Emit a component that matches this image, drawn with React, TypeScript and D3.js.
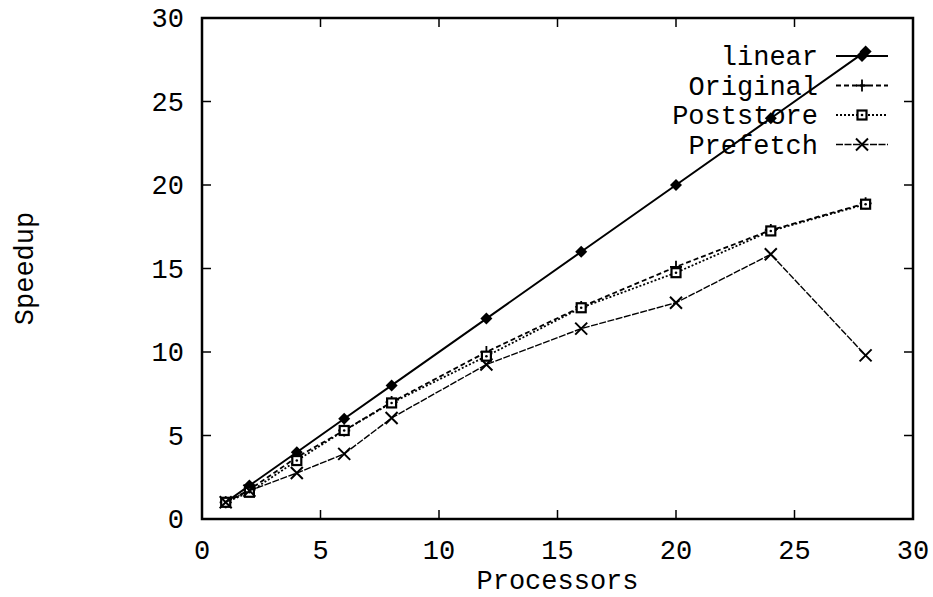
import * as d3 from "d3";

const processors = [1, 2, 4, 6, 8, 12, 16, 20, 24, 28];
const linearSpeedup = [1, 2, 4, 6, 8, 12, 16, 20, 24, 28];
const originalSpeedup = [1, 1.75, 3.7, 5.3, 7.0, 10.0, 12.7, 15.1, 17.3, 18.9];
const poststoreSpeedup = [1, 1.6, 3.5, 5.3, 6.95, 9.75, 12.65, 14.75, 17.25, 18.85];
const prefetchSpeedup = [1, 1.7, 2.75, 3.9, 6.05, 9.25, 11.4, 12.95, 15.85, 9.8];
const xTickValues = [0, 5, 10, 15, 20, 25, 30];
const yTickValues = [0, 5, 10, 15, 20, 25, 30];
const seriesNames = ["linear", "Original", "Poststore", "Prefetch"];

const FONT = "'Courier New', 'Liberation Mono', monospace";

type Pt = { x: number; y: number };

function Marker({ kind, x, y }: { kind: string; x: number; y: number }) {
	if (kind === "linear") {
		const r = 6;
		return (
			<path
				d={`M${x},${y - r}L${x + r},${y}L${x},${y + r}L${x - r},${y}Z`}
				fill="#000"
			/>
		);
	}
	if (kind === "Original") {
		const r = 6;
		return (
			<path
				d={`M${x - r},${y}H${x + r}M${x},${y - r}V${y + r}`}
				stroke="#000"
				strokeWidth={1.8}
			/>
		);
	}
	if (kind === "Poststore") {
		const r = 4.5;
		return (
			<g>
				<rect
					x={x - r}
					y={y - r}
					width={2 * r}
					height={2 * r}
					fill="#fff"
					stroke="#000"
					strokeWidth={2.2}
				/>
				<circle cx={x} cy={y} r={1.3} fill="#000" />
			</g>
		);
	}
	const r = 6;
	return (
		<path
			d={`M${x - r},${y - r}L${x + r},${y + r}M${x - r},${y + r}L${x + r},${y - r}`}
			stroke="#000"
			strokeWidth={2}
		/>
	);
}

export default function App() {
	const width = 933;
	const height = 597;
	const left = 202;
	const right = 913;
	const top = 18;
	const bottom = 519;

	const x = d3.scaleLinear().domain([0, 30]).range([left, right]);
	const y = d3.scaleLinear().domain([0, 30]).range([bottom, top]);

	const line = d3
		.line<Pt>()
		.x((d) => x(d.x))
		.y((d) => y(d.y));

	const series = [
		{ name: "linear", values: linearSpeedup, dash: "none", sw: 2 },
		{ name: "Original", values: originalSpeedup, dash: "5,3", sw: 1.8 },
		{ name: "Poststore", values: poststoreSpeedup, dash: "2,2", sw: 1.8 },
		{ name: "Prefetch", values: prefetchSpeedup, dash: "7,1.5", sw: 1.4 },
	];

	const legendY = [56, 85.5, 115, 144.5];
	const tickLen = 9;

	return (
		<svg
			width={width}
			height={height}
			style={{ position: "absolute", left: 0, top: 0, background: "#fff" }}
		>
			{/* ticks, mirrored on all four sides */}
			{xTickValues.map((t) => (
				<g key={`xt${t}`}>
					<line x1={x(t)} x2={x(t)} y1={bottom} y2={bottom - tickLen} stroke="#000" strokeWidth={1.5} />
					<line x1={x(t)} x2={x(t)} y1={top} y2={top + tickLen} stroke="#000" strokeWidth={1.5} />
					<text
						x={x(t)}
						y={559}
						textAnchor="middle"
						fontFamily={FONT}
						fontSize={27}
					>
						{t}
					</text>
				</g>
			))}
			{yTickValues.map((t) => (
				<g key={`yt${t}`}>
					<line x1={left} x2={left + tickLen} y1={y(t)} y2={y(t)} stroke="#000" strokeWidth={1.5} />
					<line x1={right} x2={right - tickLen} y1={y(t)} y2={y(t)} stroke="#000" strokeWidth={1.5} />
					<text
						x={184}
						y={y(t)}
						dy="0.35em"
						textAnchor="end"
						fontFamily={FONT}
						fontSize={27}
					>
						{t}
					</text>
				</g>
			))}

			{/* series */}
			{series.map((s) => {
				const pts: Pt[] = processors.map((p, i) => ({ x: p, y: s.values[i] }));
				return (
					<g key={s.name}>
						<path
							d={line(pts) ?? ""}
							fill="none"
							stroke="#000"
							strokeWidth={s.sw}
							strokeDasharray={s.dash}
						/>
						{pts.map((p, i) => (
							<Marker key={i} kind={s.name} x={x(p.x)} y={y(p.y)} />
						))}
					</g>
				);
			})}

			{/* legend */}
			{seriesNames.map((name, i) => {
				const s = series[i];
				return (
					<g key={`lg${name}`}>
						<text
							x={818}
							y={legendY[i]}
							dy="0.35em"
							textAnchor="end"
							fontFamily={FONT}
							fontSize={27}
						>
							{name}
						</text>
						<line
							x1={836}
							x2={888}
							y1={legendY[i]}
							y2={legendY[i]}
							stroke="#000"
							strokeWidth={s.sw}
							strokeDasharray={s.dash}
						/>
						<Marker kind={name} x={862} y={legendY[i]} />
					</g>
				);
			})}

			{/* frame */}
			<rect
				x={left}
				y={top}
				width={right - left}
				height={bottom - top}
				fill="none"
				stroke="#000"
				strokeWidth={2.5}
			/>

			<text
				x={(left + right) / 2}
				y={589}
				textAnchor="middle"
				fontFamily={FONT}
				fontSize={27}
			>
				Processors
			</text>
			<text
				transform={`translate(33,${(top + bottom) / 2}) rotate(-90)`}
				textAnchor="middle"
				fontFamily={FONT}
				fontSize={27}
			>
				Speedup
			</text>
		</svg>
	);
}
